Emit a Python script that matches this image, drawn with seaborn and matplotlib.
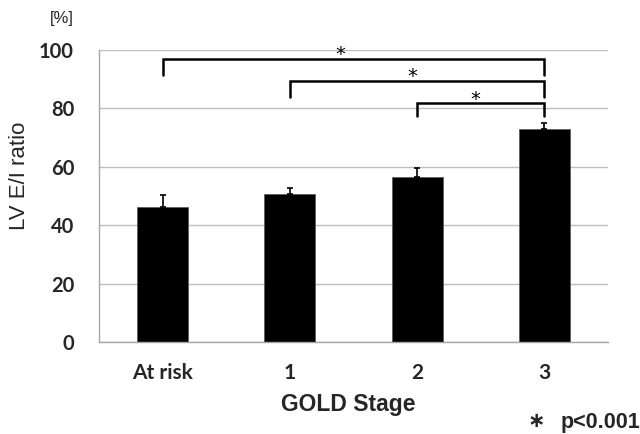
import matplotlib
matplotlib.use("Agg")
import matplotlib.pyplot as plt
import seaborn as sns
import numpy as np

categories = ["At risk", "1", "2", "3"]
values = [46.3, 50.6, 56.6, 72.8]
errors = [4.1, 2.0, 2.9, 2.1]
yticks = [0, 20, 40, 60, 80, 100]
# significance brackets: (left index, right index, bar height, drop height, star offset)
brackets = [(0, 3, 96.9, 91.4, -0.10), (1, 3, 89.3, 84.0, -0.04), (2, 3, 81.7, 77.4, -0.04)]

sns.set_theme(style="white")
plt.rcParams['font.family'] = ['Liberation Sans', 'DejaVu Sans']

fig = plt.figure(figsize=(6.4, 4.34), dpi=100)
ax = fig.add_axes([99/640, 1-342/434, (608-99)/640, (342-50)/434])

sns.barplot(x=categories, y=values, color="black", width=0.4, ax=ax,
            saturation=1, errorbar=None, edgecolor="#555555", linewidth=0.5)
xpos = np.arange(len(categories))
ax.errorbar(xpos, values, yerr=[np.zeros(len(errors)), errors], fmt="none",
            ecolor="black", elinewidth=1.2, capsize=2.2, capthick=1.2, zorder=3)

ax.set_ylim(0, 100)
ax.set_xlim(-0.5, 3.5)
ax.set_yticks(yticks)
ax.yaxis.grid(True, color="#bfbfbf", linewidth=1.0)
ax.set_axisbelow(True)
for s in ["top", "right"]:
    ax.spines[s].set_visible(False)
for s in ["left", "bottom"]:
    ax.spines[s].set_color("#a6a6a6")
    ax.spines[s].set_linewidth(1.0)

ax.set_xticks(xpos)
ax.set_xticklabels(categories, fontsize=15, fontweight="bold", family=["Lato", "DejaVu Sans"])
ax.tick_params(axis="x", which="major", length=0, pad=15)
ax.set_xticks(np.arange(-0.5, 4.0, 1.0), minor=True)
ax.tick_params(axis="x", which="minor", length=6, width=1, color="#a6a6a6", direction="out")
ax.set_yticklabels([str(t) for t in yticks], fontsize=14.5, fontweight="bold", family=["Lato", "DejaVu Sans"])
ax.tick_params(axis="y", length=7, width=1, color="#bfbfbf", direction="out", pad=11)

ax.set_xlabel("GOLD Stage", fontsize=16.5, fontweight="bold")
ax.xaxis.set_label_coords((348-99)/509, -(404-342)/292)
ax.xaxis.label.set_va("center")
ax.set_ylabel("LV E/I ratio", fontsize=16)
ax.yaxis.set_label_coords(-0.135, 0.568)

for (i, j, h, d, off) in brackets:
    ax.plot([xpos[i], xpos[i], xpos[j], xpos[j]], [d, h, h, d], color="black",
            linewidth=1.8, solid_joinstyle="miter", clip_on=False)
    ax.text((xpos[i] + xpos[j]) / 2 + off, h - 0.4, "*", ha="center", va="baseline",
            fontsize=14, color="black", family=["DejaVu Sans"])

fig.text(62/640, 1-19/434, "[%]", ha="center", va="center", fontsize=12)
fig.text(536/640, 1-427/434, "\u2217", ha="center", va="baseline", fontsize=15, fontweight="bold",
         family=["DejaVu Sans"])
fig.text(561/640, 1-428/434, "p<0.001", ha="left", va="baseline", fontsize=15.5, fontweight="bold")

fig.savefig("out.png", dpi=100)
